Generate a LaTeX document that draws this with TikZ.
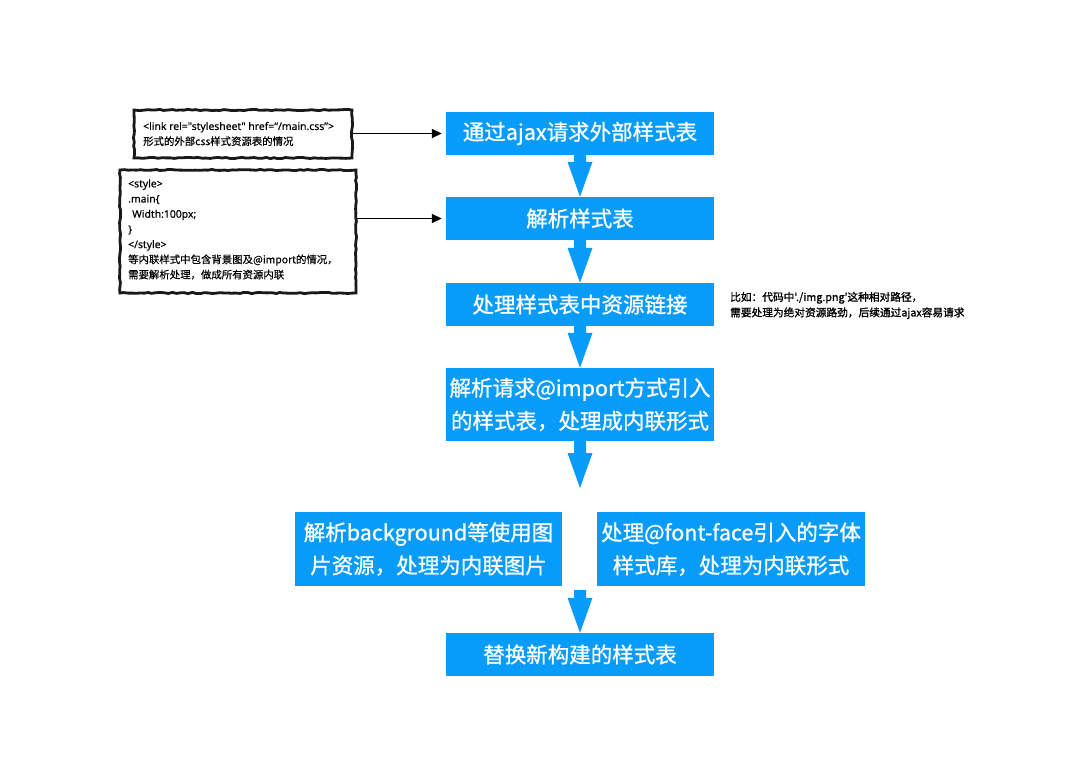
\documentclass[tikz,border=0pt]{standalone}
\usepackage{fontspec}
\setmainfont{Noto Sans CJK SC}
\newfontfamily\notebold{Noto Sans CJK SC}[FakeBold=1.2]
\newfontfamily\boxfont{Noto Sans CJK SC}[FakeBold=0.9]
\newfontfamily\sketchfont{Noto Sans CJK SC}[FakeBold=0.4]
\newfontfamily\latinfont{Noto Sans}[FakeBold=0.4]
\usetikzlibrary{arrows.meta,calc,decorations.pathmorphing}
\definecolor{flowblue}{RGB}{8,156,250}
\newcommand\blockarr[2]{%
  \fill[flowblue] let \p1=(#1), \p2=(#2) in
    (\x1-6pt,\y1) -- (\x1+6pt,\y1) -- (\x1+6pt,\y2+35pt) -- (\x1+12.5pt,\y2+35pt)
    -- (\x1,\y2) -- (\x1-12.5pt,\y2+35pt) -- (\x1-6pt,\y2+35pt) -- cycle;}
\begin{document}
\begin{tikzpicture}[x=1pt,y=-1pt,
  flowbox/.style={fill=flowblue,text=white,inner sep=0pt,minimum width=268pt,
    minimum height=43pt,align=center,font=\boxfont\fontsize{21.5}{33}\selectfont},
  sketchbox/.style={draw=black!90,line width=2.8pt,
    decorate,decoration={random steps,segment length=4pt,amplitude=0.6pt},
    inner sep=0pt},
  sketchtext/.style={align=left,inner sep=0pt,font=\sketchfont\fontsize{10.4}{15.2}\selectfont},
  notearrow/.style={line width=1.5pt,-{Triangle[length=10pt,width=9pt]},shorten >=4pt},
  notetext/.style={align=left,inner sep=0pt,font=\notebold\fontsize{10.7}{15.5}\selectfont}
]
\pgfmathsetseed{7}
\useasboundingbox[fill=white] (0,0) rectangle (1080,776);

\node[flowbox] (b1) at (580,133.5) {通过ajax请求外部样式表};
\node[flowbox] (b2) at (580,218.5) {解析样式表};
\node[flowbox] (b3) at (580,304.5) {处理样式表中资源链接};
\node[flowbox,minimum height=73pt] (b4) at (580,404.5) {解析请求@import方式引入\\的样式表，处理成内联形式};
\node[flowbox,minimum height=74pt,minimum width=267pt] (b5a) at (428.5,549) {解析background等使用图\\片资源，处理为内联图片};
\node[flowbox,minimum height=74pt] (b5b) at (731,549) {处理@font-face引入的字体\\样式库，处理为内联形式};
\node[flowbox] (b6) at (580,654.5) {替换新构建的样式表};

\coordinate (c4) at (580,488);
\coordinate (c5) at (580,590);

\blockarr{b1.south}{b2.north}
\blockarr{b2.south}{b3.north}
\blockarr{b3.south}{b4.north}
\blockarr{b4.south}{c4}
\blockarr{c5}{b6.north}

\node[sketchbox,minimum width=218pt,minimum height=48pt] (nA) at (243,134) {};
\node[sketchtext,anchor=west] (tA) at (143,134)
  {{\latinfont <link rel="stylesheet" href=“/main.css”>}\\形式的外部css样式资源表的情况};
\node[sketchbox,minimum width=236pt,minimum height=123pt] (nB) at (238,231.5) {};
\node[sketchtext,anchor=west] (tB) at (128,229.5)
  {{\latinfont <style>}\\{\latinfont .main\{}\\{\latinfont\hspace*{4pt}Width:100px;}\\{\latinfont\}}\\{\latinfont </style>}\\等内联样式中包含背景图及@import的情况，\\需要解析处理，做成所有资源内联};

\draw[notearrow] (nA.east |- b1) -- (b1.west);
\draw[notearrow] (nB.east |- b2) -- (b2.west);

\node[notetext,anchor=west] (nC) at (730,305.5)
  {比如：代码中'./img.png'这种相对路径，\\需要处理为绝对资源路劲，后续通过ajax容易请求};
\end{tikzpicture}
\end{document}
